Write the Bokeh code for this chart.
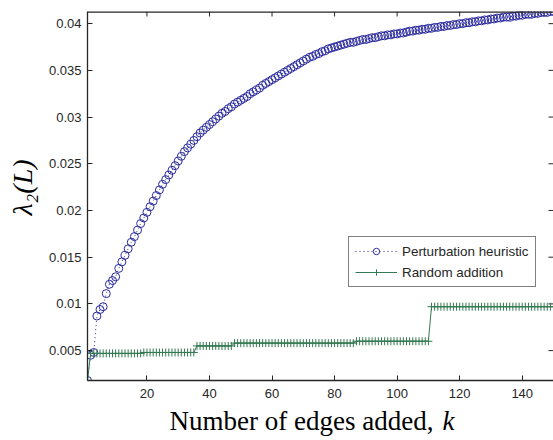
import math
from bokeh.plotting import figure
from bokeh.models import Range1d, FixedTicker, Label, Legend, LegendItem, Span
from bokeh.embed import file_html
from bokeh.resources import INLINE

# ---------------- data ----------------
k = list(range(1, 151))

perturbation = [
    0.0018, 0.0045, 0.0048, 0.0087, 0.0094, 0.0097, 0.0111, 0.0121, 0.0125, 0.0129,
    0.0138, 0.0145, 0.0152, 0.0159, 0.0166, 0.0172, 0.0179, 0.0186, 0.0192, 0.0198,
    0.0204, 0.0210, 0.0216, 0.0222, 0.0228, 0.0233, 0.0238, 0.0243, 0.0248, 0.0253,
    0.0258, 0.0263, 0.0267, 0.0271, 0.0275, 0.0279, 0.0283, 0.0286, 0.0289, 0.0292,
    0.0295, 0.0298, 0.0301, 0.0304, 0.0306, 0.0309, 0.0311, 0.0314, 0.0316, 0.0318,
    0.0320, 0.0322, 0.0325, 0.0327, 0.0329, 0.0331, 0.0334, 0.0336, 0.0338, 0.0340,
    0.0342, 0.0344, 0.0346, 0.0348, 0.0350, 0.0352, 0.0354, 0.0356, 0.0358, 0.0360,
    0.0362, 0.0364, 0.0365, 0.0367, 0.0368, 0.0370, 0.0371, 0.0373, 0.0374, 0.0375,
    0.0376, 0.0377, 0.0378, 0.0379, 0.0380, 0.0380, 0.0381, 0.0382, 0.0383, 0.0383,
    0.0384, 0.0385, 0.0385, 0.0386, 0.0387, 0.0387, 0.0388, 0.0388, 0.0389, 0.0389,
    0.0390, 0.0390, 0.0391, 0.0392, 0.0392, 0.0393, 0.0393, 0.0394, 0.0394, 0.0395,
    0.0395, 0.0396, 0.0396, 0.0397, 0.0397, 0.0398, 0.0398, 0.0399, 0.0399, 0.0400,
    0.0400, 0.0401, 0.0401, 0.0402, 0.0402, 0.0403, 0.0403, 0.0404, 0.0404, 0.0405,
    0.0405, 0.0406, 0.0406, 0.0407, 0.0407, 0.0407, 0.0408, 0.0408, 0.0409, 0.0409,
    0.0410, 0.0410, 0.0410, 0.0411, 0.0411, 0.0412, 0.0412, 0.0412, 0.0413, 0.0413,
]

random_addition = [
    0.0018, 0.0047, 0.0047, 0.0047, 0.0047, 0.0047, 0.0047, 0.0047, 0.0047, 0.0047,
    0.0047, 0.0047, 0.0047, 0.0047, 0.0047, 0.0047, 0.0047, 0.0047, 0.0048, 0.0048,
    0.0048, 0.0048, 0.0048, 0.0048, 0.0048, 0.0048, 0.0048, 0.0048, 0.0048, 0.0048,
    0.0048, 0.0048, 0.0048, 0.0048, 0.0048, 0.0055, 0.0055, 0.0055, 0.0055, 0.0055,
    0.0055, 0.0055, 0.0055, 0.0055, 0.0055, 0.0055, 0.0055, 0.0058, 0.0058, 0.0058,
    0.0058, 0.0058, 0.0058, 0.0058, 0.0058, 0.0058, 0.0058, 0.0058, 0.0058, 0.0058,
    0.0058, 0.0058, 0.0058, 0.0058, 0.0058, 0.0058, 0.0058, 0.0058, 0.0058, 0.0058,
    0.0058, 0.0058, 0.0058, 0.0058, 0.0058, 0.0058, 0.0058, 0.0058, 0.0058, 0.0058,
    0.0058, 0.0058, 0.0058, 0.0058, 0.0058, 0.0058, 0.0060, 0.0060, 0.0060, 0.0060,
    0.0060, 0.0060, 0.0060, 0.0060, 0.0060, 0.0060, 0.0060, 0.0060, 0.0060, 0.0060,
    0.0060, 0.0060, 0.0060, 0.0060, 0.0060, 0.0060, 0.0060, 0.0060, 0.0060, 0.0060,
    0.0097, 0.0097, 0.0097, 0.0097, 0.0097, 0.0097, 0.0097, 0.0097, 0.0097, 0.0097,
    0.0097, 0.0097, 0.0097, 0.0097, 0.0097, 0.0097, 0.0097, 0.0097, 0.0097, 0.0097,
    0.0097, 0.0097, 0.0097, 0.0097, 0.0097, 0.0097, 0.0097, 0.0097, 0.0097, 0.0097,
    0.0097, 0.0097, 0.0097, 0.0097, 0.0097, 0.0097, 0.0097, 0.0097, 0.0097, 0.0097,
]

series_names = ["Perturbation heuristic", "Random addition"]
x_ticks = [20, 40, 60, 80, 100, 120, 140]
y_ticks = [0.005, 0.01, 0.015, 0.02, 0.025, 0.03, 0.035, 0.04]
y_tick_labels = ["0.005", "0.01", "0.015", "0.02", "0.025", "0.03", "0.035", "0.04"]
x_limits = (1, 150)
y_limits = (0.0018, 0.0413)
x_label_text = "Number of edges added,"
x_label_var = "k"
y_label_text = "\u03bb\u2082(L)"

# ---------------- style ----------------
BLUE = "#2b2b9e"
GREEN = "#357a52"
AX = "#262626"
SANS = "Liberation Sans"
SERIF = "Liberation Serif"

p = figure(width=553, height=440, output_backend="svg", toolbar_location=None,
           x_range=Range1d(*x_limits), y_range=Range1d(*y_limits),
           min_border_left=87, min_border_right=0, min_border_top=11,
           min_border_bottom=60)
p.background_fill_color = "white"
p.border_fill_color = "white"
p.outline_line_color = None
p.xgrid.visible = False
p.ygrid.visible = False

for ax in (p.xaxis[0], p.yaxis[0]):
    ax.major_tick_in = 5
    ax.major_tick_out = 0
    ax.minor_tick_line_color = None
    ax.axis_line_color = AX
    ax.axis_line_width = 1.3
    ax.major_tick_line_color = AX
    ax.major_label_text_font = SANS
    ax.major_label_text_font_size = "13px"
    ax.major_label_text_color = AX

p.xaxis[0].ticker = FixedTicker(ticks=x_ticks)
p.xaxis[0].major_label_standoff = 8
p.yaxis[0].ticker = FixedTicker(ticks=y_ticks)
p.yaxis[0].major_label_overrides = {v: s for v, s in zip(y_ticks, y_tick_labels)}
p.yaxis[0].major_label_standoff = 6

# top edge of the box (the right edge lies just outside the picture)
p.add_layout(Span(location=y_limits[1], dimension="width", line_color=AX,
                  line_width=2.6))

# mirrored ticks on the top and right edges of the box
p.ray(x=x_ticks, y=y_limits[1], length=5, length_units="screen", angle=-math.pi / 2,
      line_color=AX, line_width=1)
p.ray(x=x_limits[1], y=y_ticks, length=5, length_units="screen", angle=math.pi,
      line_color=AX, line_width=1)

l1 = p.line(k, perturbation, line_color=BLUE, line_width=1, line_dash="1 3")
s1 = p.scatter(k, perturbation, marker="circle", size=8, fill_color=None,
               line_color=BLUE, line_width=1)
l2 = p.line(k, random_addition, line_color=GREEN, line_width=1)
s2 = p.scatter(k, random_addition, marker="cross", size=8, line_color=GREEN,
               line_width=1)

legend = Legend(items=[LegendItem(label=series_names[0], renderers=[l1, s1]),
                       LegendItem(label=series_names[1], renderers=[l2, s2])],
                location=(261, 93), glyph_width=42, glyph_height=16,
                label_height=16, spacing=5, padding=6, label_standoff=5,
                margin=0, border_line_color="black", border_line_width=1,
                label_text_font=SANS, label_text_font_size="13.4px",
                label_text_color=AX, background_fill_alpha=1)
p.add_layout(legend)

# y-axis title as a rotated label in a side panel
yl = Label(x=8, y=193, x_units="screen", y_units="screen", text=y_label_text,
           angle=math.pi / 2, text_align="center", text_baseline="middle",
           text_font=SERIF, text_font_style="italic", text_font_size="28px",
           text_color="black")
p.add_layout(yl, "left")

# x-axis title: upright words in a panel below, italic k in an outer left panel
xl1 = Label(x=346, y=10, x_units="screen", y_units="screen", text=x_label_text,
            text_align="right", text_baseline="alphabetic", text_font=SERIF,
            text_font_size="27px", text_color="black")
p.add_layout(xl1, "below")
xl2 = Label(x=440, y=-40, x_units="screen", y_units="screen", text=x_label_var,
            text_align="left", text_baseline="alphabetic", text_font=SERIF,
            text_font_style="italic", text_font_size="27px", text_color="black")
p.add_layout(xl2, "left")

open("out.html", "w").write(file_html(p, INLINE))
